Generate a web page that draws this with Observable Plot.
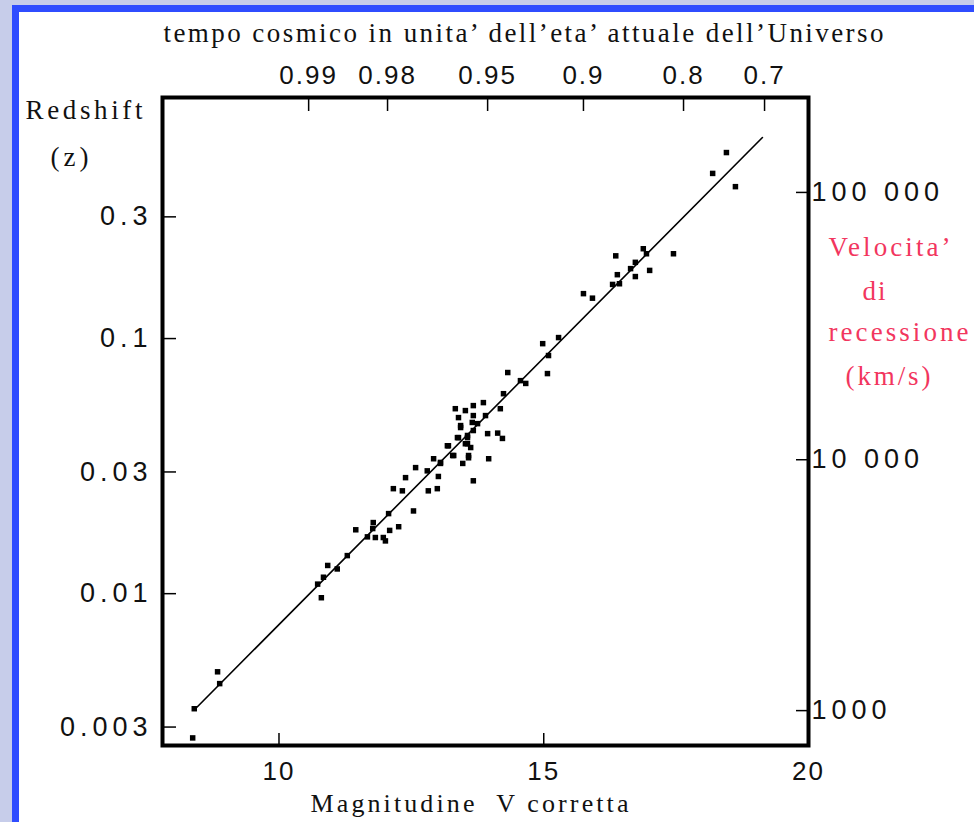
<!DOCTYPE html>
<html><head><meta charset="utf-8">
<script src="https://cdn.jsdelivr.net/npm/d3@7"></script>
<script src="https://cdn.jsdelivr.net/npm/@observablehq/plot@0.6"></script>
<style>
html,body{margin:0;padding:0;}
body{width:974px;height:822px;background:#c7cdea;position:relative;overflow:hidden;}
#panel{position:absolute;left:12px;top:5px;width:990px;height:850px;background:#fff;border-left:7px solid #2f4cff;border-top:7px solid #2f4cff;}
#chart{position:absolute;left:0;top:0;}
svg.hub g[aria-label="y-axis tick label"] text{letter-spacing:5px;}
svg.hub g[aria-label="x-axis tick label"] text{letter-spacing:2px;}
</style></head><body><div id="panel"></div><div id="chart"></div>
<script>
// Galaxy data: corrected V magnitude and redshift z
const magnitude = [8.37,8.40,8.84,8.88,10.73,10.80,10.84,10.92,11.10,11.29,
  11.45,11.78,11.77,11.67,11.82,11.97,12.07,12.09,12.26,12.01,
  12.54,12.16,12.33,12.39,12.82,12.99,12.58,12.80,13.01,12.92,
  13.05,13.20,13.30,13.43,13.39,13.56,13.52,13.58,13.47,13.67,
  13.75,14.98,15.09,15.07,15.28,14.32,14.56,14.66,14.24,14.18,
  13.86,13.67,13.33,13.52,13.39,13.67,13.90,13.43,13.65,13.67,
  13.94,14.13,14.22,13.37,13.56,13.56,13.18,13.62,13.28,13.58,
  13.96,13.05,18.45,18.19,18.62,17.45,16.36,16.88,16.94,16.73,
  16.64,16.73,17.00,16.39,16.43,16.30,15.75,15.92];
const redshift = [0.00272,0.00354,0.00494,0.00444,0.0109,0.00964,0.0116,0.0129,0.0125,0.0141,
  0.0178,0.0190,0.0180,0.0167,0.0166,0.0166,0.0206,0.0177,0.0183,0.0161,
  0.0211,0.0258,0.0253,0.0285,0.0253,0.0258,0.0312,0.0303,0.0288,0.0338,
  0.0324,0.0380,0.0348,0.0456,0.0409,0.0417,0.0387,0.0348,0.0324,0.0277,
  0.0464,0.0955,0.0858,0.0729,0.1009,0.0736,0.0684,0.0667,0.0608,0.0531,
  0.0561,0.0546,0.0531,0.0522,0.0490,0.0499,0.0499,0.0448,0.0469,0.0436,
  0.0424,0.0426,0.0406,0.0409,0.0409,0.0387,0.0380,0.0374,0.0348,0.0341,
  0.0338,0.0327,0.536,0.444,0.394,0.215,0.211,0.225,0.215,0.199,
  0.188,0.175,0.185,0.178,0.164,0.163,0.150,0.144];
// Fitted Hubble line end points
const fitMagnitude = [8.44, 19.13];
const fitRedshift = [0.00357, 0.614];
// Axes
const zTicks = [0.3, 0.1, 0.03, 0.01, 0.003];
const zTickLabels = ["0.3", "0.1", "0.03", "0.01", "0.003"];
const magTicks = [10, 15, 20];
const timeTickMag = [10.56, 12.05, 13.94, 15.75, 17.64, 19.17];
const timeTickLabels = ["0.99", "0.98", "0.95", "0.9", "0.8", "0.7"];
const velocityTickZ = [0.374, 0.0335, 0.00348];
const velocityTickLabels = ["100 000", "10 000", "1000"];
// Texts
const topTitle = "tempo cosmico in unita’ dell’eta’ attuale dell’Universo";
const yTitle = ["Redshift", "(z)"];
const xTitle = "Magnitudine  V corretta";
const rightTitle = ["Velocita’", "di", "recessione", "(km/s)"];

const W = 974, H = 822, mL = 162, mR = 166, mT = 97, mB = 77;
const plotW = W - mL - mR, plotH = H - mT - mB;
const sans = "'Liberation Sans', Arial, sans-serif";
const serif = "'Liberation Serif', 'Times New Roman', serif";
const red = "#f2365e";

const points = magnitude.map((m, i) => ({m, z: redshift[i]}));
const fit = fitMagnitude.map((m, i) => ({m, z: fitRedshift[i]}));

const chart = Plot.plot({
  width: W, height: H,
  marginLeft: mL, marginRight: mR, marginTop: mT, marginBottom: mB,
  className: "hub",
  style: {background: "transparent", fontFamily: sans, color: "#111"},
  x: {type: "linear", domain: [7.8, 20]},
  y: {type: "log", domain: [0.00254, 0.881]},
  marks: [
    Plot.line(fit, {x: "m", y: "z", stroke: "#000", strokeWidth: 1.6}),
    Plot.dot(points, {x: "m", y: "z", symbol: "square", r: 3.1, fill: "#000", stroke: null}),
    Plot.tickY(zTicks, {y: d => d, insetRight: plotW - 14, stroke: "#000", strokeWidth: 1.5}),
    Plot.tickY(velocityTickZ, {y: d => d, insetLeft: plotW - 12, stroke: "#000", strokeWidth: 1.5}),
    Plot.tickX(magTicks, {x: d => d, insetTop: plotH - 12, stroke: "#000", strokeWidth: 1.5}),
    Plot.tickX(timeTickMag, {x: d => d, insetBottom: plotH - 14, stroke: "#000", strokeWidth: 1.5}),
    Plot.frame({stroke: "#000", strokeWidth: 4}),
    Plot.axisY(zTicks, {anchor: "left", tickSize: 0, tickPadding: 10, label: null,
      tickFormat: d => zTickLabels[zTicks.indexOf(d)], fontSize: 27, fill: "#111"}),
    Plot.axisY(velocityTickZ, {anchor: "right", tickSize: 0, tickPadding: 3, label: null,
      tickFormat: d => velocityTickLabels[velocityTickZ.indexOf(d)], fontSize: 27, fill: "#111"}),
    Plot.axisX(magTicks, {anchor: "bottom", tickSize: 0, tickPadding: 16, label: null,
      tickFormat: d => String(d), fontSize: 26, fill: "#111"}),
    Plot.axisX(timeTickMag, {anchor: "top", tickSize: 0, tickPadding: 14, label: null,
      tickFormat: d => timeTickLabels[timeTickMag.indexOf(d)], fontSize: 26, fill: "#111"}),
    Plot.text([topTitle], {frameAnchor: "top-left", textAnchor: "start", lineAnchor: "middle",
      dx: 1, dy: -64, fontFamily: serif, fontSize: 27, fill: "#111"}),
    Plot.text([yTitle[0]], {frameAnchor: "top-left", textAnchor: "start", lineAnchor: "middle",
      dx: -137, dy: 13, fontFamily: serif, fontSize: 27, fill: "#111"}),
    Plot.text([yTitle[1]], {frameAnchor: "top-left", textAnchor: "start", lineAnchor: "middle",
      dx: -112, dy: 60, fontFamily: serif, fontSize: 27, fill: "#111"}),
    Plot.text([xTitle], {frameAnchor: "bottom-left", textAnchor: "start", lineAnchor: "middle",
      dx: 148, dy: 58, fontFamily: serif, fontSize: 26, fill: "#111"}),
    Plot.text([rightTitle[0]], {frameAnchor: "top-right", textAnchor: "start", lineAnchor: "middle",
      dx: 20, dy: 150, fontFamily: serif, fontSize: 27, fill: red}),
    Plot.text([rightTitle[1]], {frameAnchor: "top-right", textAnchor: "start", lineAnchor: "middle",
      dx: 54, dy: 194, fontFamily: serif, fontSize: 27, fill: red}),
    Plot.text([rightTitle[2]], {frameAnchor: "top-right", textAnchor: "start", lineAnchor: "middle",
      dx: 20, dy: 235, fontFamily: serif, fontSize: 27, fill: red}),
    Plot.text([rightTitle[3]], {frameAnchor: "top-right", textAnchor: "start", lineAnchor: "middle",
      dx: 37, dy: 279, fontFamily: serif, fontSize: 27, fill: red})
  ]
});
document.getElementById("chart").appendChild(chart);

// Stretch serif labels to the widths they have in the reference
const targetWidths = new Map([
  [topTitle, 720], [yTitle[0], 117], [yTitle[1], 38], [xTitle, 318],
  [rightTitle[0], 122], [rightTitle[1], 23], [rightTitle[2], 140], [rightTitle[3], 85]
]);
chart.querySelectorAll("text").forEach(t => {
  const w = targetWidths.get(t.textContent);
  if (w) { t.setAttribute("textLength", w); t.setAttribute("lengthAdjust", "spacing"); }
});
</script></body></html>
